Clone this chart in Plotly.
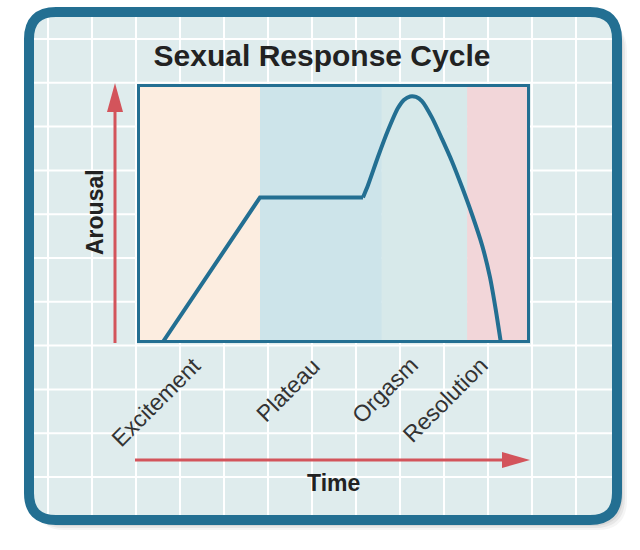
import plotly.graph_objects as go

# ---------------- data ----------------
stages = ["Excitement", "Plateau", "Orgasm", "Resolution"]
stage_bounds = [0, 31.3, 62.3, 84.0, 100]          # time (% of cycle)
line_time = [6.4, 31.3, 57.5]                       # straight part
line_arousal = [0, 56.2, 56.2]
curve_time = [57.5, 58.8, 61.3, 63.9, 66.4, 67.9, 69.5, 71.0, 72.5, 75.1, 77.6, 80.2,
              82.7, 85.2, 87.8, 89.8, 91.3, 92.6]
curve_arousal = [56.2, 61.0, 71.8, 82.2, 90.7, 93.8, 95.2, 95.0, 93.4, 86.9, 78.8, 69.9,
                 60.2, 49.8, 37.8, 25.5, 12.7, 0]
title_text = "Sexual Response Cycle"
x_label = "Time"
y_label = "Arousal"

# ---------------- styles ----------------
W, H = 640, 550
PL, PR, PT, PB = 137, 530, 84, 343        # plot area in pixels
stage_colors = ["#fcede0", "#cde4ea", "#d7e9ea", "#f2d6d9"]
blue = "#236f92"
red = "#d3545b"
bg = "#dfeced"
FONT = "Liberation Sans, Arial, sans-serif"
label_centers = [(156, 402), (288, 390), (385, 390), (445, 400)]


def px(x):
    return (x - PL) / (PR - PL)


def py(y):
    return (PB - y) / (PB - PT)


def pt(x, y):
    return f"{px(x):.5f},{py(y):.5f}"


def rounded(x0, y0, x1, y1, r):
    return (f"M {pt(x0 + r, y0)} L {pt(x1 - r, y0)} Q {pt(x1, y0)} {pt(x1, y0 + r)} "
            f"L {pt(x1, y1 - r)} Q {pt(x1, y1)} {pt(x1 - r, y1)} "
            f"L {pt(x0 + r, y1)} Q {pt(x0, y1)} {pt(x0, y1 - r)} "
            f"L {pt(x0, y0 + r)} Q {pt(x0, y0)} {pt(x0 + r, y0)} Z")


def tri(a, b, c):
    return f"M {pt(*a)} L {pt(*b)} L {pt(*c)} Z"


shapes = []
# soft shadow
for off, op in [(10, 0.06), (8, 0.08), (6, 0.10), (4, 0.12)]:
    shapes.append(dict(type="path", xref="paper", yref="paper", layer="below",
                       path=rounded(29 + off * 0.6, 12 + off, 617 + off, 520 + off, 30),
                       fillcolor="#505050", opacity=op, line=dict(width=0)))
# box fill
shapes.append(dict(type="path", xref="paper", yref="paper", layer="below",
                   path=rounded(29, 12, 617, 520, 27), fillcolor=bg, line=dict(width=0)))
# grid
for gx in range(0, 13):
    x = 48 + gx * 44.0
    shapes.append(dict(type="line", xref="paper", yref="paper", layer="below",
                       x0=px(x), x1=px(x), y0=py(17), y1=py(515),
                       line=dict(color="white", width=2)))
for gy in range(0, 11):
    y = 39 + gy * 43.8
    shapes.append(dict(type="line", xref="paper", yref="paper", layer="below",
                       x0=px(34), x1=px(612), y0=py(y), y1=py(y),
                       line=dict(color="white", width=2)))
# box border
shapes.append(dict(type="path", xref="paper", yref="paper", layer="below",
                   path=rounded(29, 12, 617, 520, 27), fillcolor="rgba(0,0,0,0)",
                   line=dict(color=blue, width=10)))
# stage bands
for i, s in enumerate(stages):
    shapes.append(dict(type="rect", xref="x", yref="y", layer="below",
                       x0=stage_bounds[i], x1=stage_bounds[i + 1], y0=0, y1=100,
                       fillcolor=stage_colors[i], line=dict(width=0)))
# plot frame
shapes.append(dict(type="rect", xref="x", yref="y", layer="above",
                   x0=0, x1=100, y0=0, y1=100, line=dict(color=blue, width=6)))
# arrows
shapes.append(dict(type="line", xref="paper", yref="paper", x0=px(115), x1=px(115),
                   y0=py(343), y1=py(108), line=dict(color=red, width=3)))
shapes.append(dict(type="path", xref="paper", yref="paper",
                   path=tri((115, 83), (107, 112), (123, 112)), fillcolor=red, line=dict(width=0)))
shapes.append(dict(type="line", xref="paper", yref="paper", x0=px(135), x1=px(505),
                   y0=py(460), y1=py(460), line=dict(color=red, width=3)))
shapes.append(dict(type="path", xref="paper", yref="paper",
                   path=tri((530, 460), (502, 452), (502, 468)), fillcolor=red, line=dict(width=0)))

annotations = []
for s, (cx, cy) in zip(stages, label_centers):
    annotations.append(dict(text=s, xref="paper", yref="paper", x=px(cx), y=py(cy),
                            xanchor="center", yanchor="middle", textangle=-45, showarrow=False,
                            font=dict(family=FONT, size=23, color="#333333")))
annotations.append(dict(text=f"<b>{x_label}</b>", xref="paper", yref="paper", x=px(333), y=py(483),
                        xanchor="center", yanchor="middle", showarrow=False,
                        font=dict(family=FONT, size=23, color="#222222")))
annotations.append(dict(text=f"<b>{y_label}</b>", xref="paper", yref="paper", x=px(95), y=py(212),
                        xanchor="center", yanchor="middle", textangle=-90, showarrow=False,
                        font=dict(family=FONT, size=23, color="#222222")))

fig = go.Figure()
fig.add_trace(go.Scatter(x=line_time, y=line_arousal, mode="lines",
                         line=dict(color=blue, width=4), hoverinfo="skip", showlegend=False))
fig.add_trace(go.Scatter(x=curve_time, y=curve_arousal, mode="lines",
                         line=dict(color=blue, width=4, shape="spline", smoothing=0.6),
                         hoverinfo="skip", showlegend=False))

fig.update_layout(
    width=W, height=H, autosize=False,
    margin=dict(l=PL, r=W - PR, t=PT, b=H - PB, pad=0),
    paper_bgcolor="white", plot_bgcolor="rgba(0,0,0,0)",
    xaxis=dict(range=[0, 100], visible=False, fixedrange=True),
    yaxis=dict(range=[0, 100], visible=False, fixedrange=True),
    title=dict(text=f"<b>{title_text}</b>", x=322 / W, xref="container", xanchor="center",
               y=1 - 55 / H, yref="container", yanchor="middle",
               font=dict(family=FONT, size=30, color="#222222")),
    shapes=shapes, annotations=annotations, showlegend=False,
)

fig.write_html("out.html")
